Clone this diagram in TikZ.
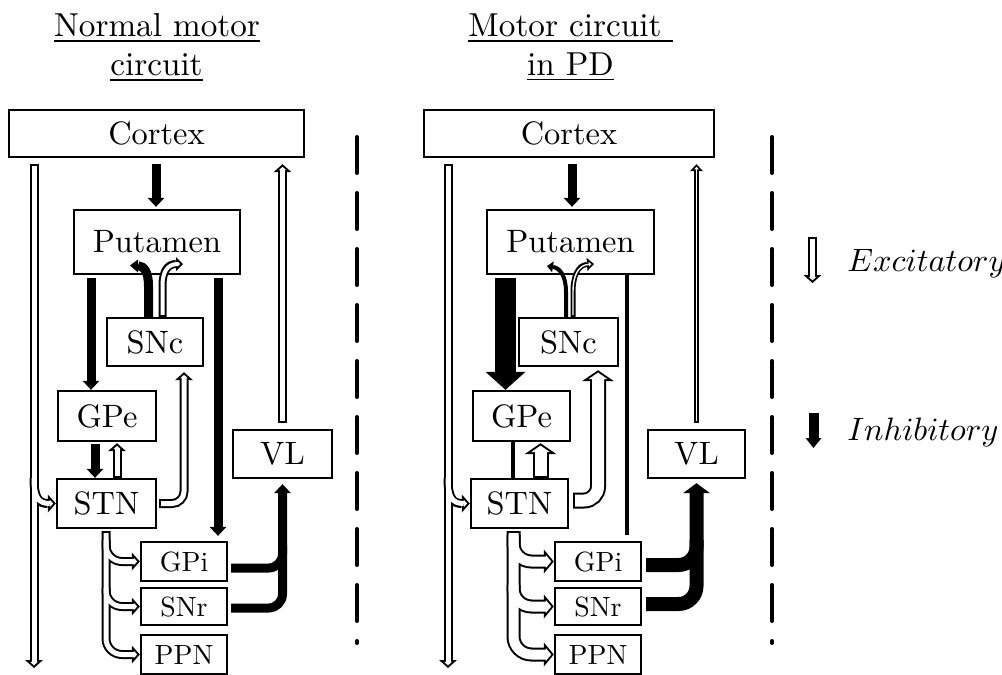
\documentclass[tikz,border=0pt]{standalone}
\usepackage{graphicx}
\usetikzlibrary{arrows.meta,calc}
\newcommand{\T}[1]{\scalebox{1.62}{#1}}
\newcommand{\Ts}[1]{\scalebox{1.39}{#1}}
\newcommand{\Tt}[1]{\scalebox{1.66}{#1}}
\tikzset{
  box/.style={draw, line width=1.2pt, inner sep=0pt, font=\fontsize{10}{12}\selectfont},
  sbox/.style={box},
  ttl/.style={anchor=base, inner sep=0pt, font=\fontsize{10}{12}\selectfont},
  lgd/.style={anchor=base west, inner sep=0pt, font=\fontsize{10}{12}\selectfont},
  dashln/.style={line width=2pt, line cap=round, dash pattern=on 18pt off 10pt},
  exNo/.style={draw=black, line width=4.5pt, -{Triangle[length=4pt,width=9pt,line width=0pt]}},
  exNi/.style={draw=white, line width=2.5pt, shorten <=1pt, shorten >=1.34pt, -{Triangle[length=1.67pt,width=3.75pt,line width=0pt]}},
  exSo/.style={draw=black, line width=4pt, -{Triangle[length=3.5pt,width=7pt,line width=0pt]}},
  exSi/.style={draw=white, line width=2pt, shorten <=1pt, shorten >=1.41pt, -{Triangle[length=1.08pt,width=2.17pt,line width=0pt]}},
  exTo/.style={draw=black, line width=2.5pt, -{Triangle[length=3.5pt,width=6.5pt,line width=0pt]}},
  exTi/.style={draw=white, line width=0.7pt, shorten <=0.9pt, shorten >=1.33pt, -{Triangle[length=1.28pt,width=2.35pt,line width=0pt]}},
  exWo/.style={draw=black, line width=8pt, -{Triangle[length=5.5pt,width=16pt,line width=0pt]}},
  exWi/.style={draw=white, line width=6pt, shorten <=1pt, shorten >=1.22pt, -{Triangle[length=3.28pt,width=9.55pt,line width=0pt]}},
  exVo/.style={draw=black, line width=7pt, -{Triangle[length=5pt,width=12pt,line width=0pt]}},
  exVi/.style={draw=white, line width=5pt, shorten <=1pt, shorten >=1.3pt, -{Triangle[length=2.7pt,width=6.5pt,line width=0pt]}},
  inN/.style={draw=black, line width=4.5pt, -{Triangle[length=4.5pt,width=8.5pt,line width=0pt]}},
  inS/.style={draw=black, line width=4.5pt, -{Triangle[length=4pt,width=6.5pt,line width=0pt]}},
  inT/.style={draw=black, line width=7pt, -{Triangle[length=5pt,width=13.5pt,line width=0pt]}},
  inH/.style={draw=black, line width=10.5pt, -{Triangle[length=9pt,width=20pt,line width=0pt]}},
  inL/.style={draw=black, line width=2pt},
  inLt/.style={draw=black, line width=2pt, -{Triangle[length=3pt,width=5.5pt,line width=0pt]}},
  inLg/.style={draw=black, line width=5pt, -{Triangle[length=5pt,width=8pt,line width=0pt]}},
}
\newcommand{\exa}[3][]{\draw[#2o,#1] #3; \draw[#2i,#1] #3;}
\begin{document}
\begin{tikzpicture}[x=0.5pt,y=-0.5pt]
\useasboundingbox (0,0) rectangle (1002,675);
% titles
\node[ttl] (tL1) at (157,36) {\Tt{\underline{Normal motor}}};
\node[ttl] (tL2) at (156.5,75) {\Tt{\underline{circuit}}};
\node[ttl] (tR1) at (570.5,36) {\Tt{\underline{Motor circuit }}};
\node[ttl] (tR2) at (570.5,75) {\Tt{\underline{in PD}}};
% ---------------- left boxes
\node[box, minimum width=147.5pt, minimum height=23.5pt] (cortexL) at (156.5,133.5) {\T{Cortex}};
\node[box, minimum width=83pt, minimum height=32pt] (putL) at (157,242) {\T{Putamen}};
\node[box, minimum width=48pt, minimum height=24pt] (sncL) at (155,342) {\T{SNc}};
\node[box, minimum width=49pt, minimum height=25pt] (gpeL) at (107,416) {\T{GPe}};
\node[box, minimum width=49.5pt, minimum height=24.5pt] (stnL) at (106.5,503.5) {\T{STN}};
\node[box, minimum width=49.5pt, minimum height=24pt] (vlL) at (282.5,454) {\T{VL}};
\node[sbox, minimum width=43pt, minimum height=19.5pt] (gpiL) at (184,561.5) {\Ts{GPi}};
\node[sbox, minimum width=43pt, minimum height=18.5pt] (snrL) at (184,606.5) {\Ts{SNr}};
\node[sbox, minimum width=43pt, minimum height=19.5pt] (ppnL) at (184,654.5) {\Ts{PPN}};
% ---------------- right boxes
\node[box, minimum width=145pt, minimum height=23.5pt] (cortexR) at (569,133.5) {\T{Cortex}};
\node[box, minimum width=83.5pt, minimum height=32pt] (putR) at (570.5,242) {\T{Putamen}};
\node[box, minimum width=49.5pt, minimum height=24pt] (sncR) at (568.5,342) {\T{SNc}};
\node[box, minimum width=48.5pt, minimum height=25pt] (gpeR) at (521.5,416) {\T{GPe}};
\node[box, minimum width=48.5pt, minimum height=24.5pt] (stnR) at (519.5,503.5) {\T{STN}};
\node[box, minimum width=48.5pt, minimum height=24pt] (vlR) at (696.5,454) {\T{VL}};
\node[sbox, minimum width=43pt, minimum height=19.5pt] (gpiR) at (598,561.5) {\Ts{GPi}};
\node[sbox, minimum width=43pt, minimum height=18.5pt] (snrR) at (598,606.5) {\Ts{SNr}};
\node[sbox, minimum width=43pt, minimum height=19.5pt] (ppnR) at (598,654.5) {\Ts{PPN}};
% free ends
\coordinate (botL) at (34,668);
\coordinate (brL) at (34,478);
\coordinate (botR) at (448,668);
\coordinate (brR) at (448,478);
\coordinate (pLa) at (130,265.5);
\coordinate (pLb) at (183,264);
\coordinate (pRa) at (547,266);
\coordinate (pRb) at (594,264);
% dashed separators
\draw[dashln] (357,137) coordinate (dL1) -- (357,643) coordinate (dL2);
\draw[dashln] (772,137) coordinate (dR1) -- (772,643) coordinate (dR2);
% ================= LEFT connectors
\draw[exNo] ($(cortexL.south -| botL)+(0,6)$) -- (botL);
\draw[exNo] (brL) .. controls (34,497) and (38,503.5) .. (stnL.west);
\draw[exNi] ($(cortexL.south -| botL)+(0,6)$) -- (botL);
\draw[exNi, shorten <=0pt] (brL) .. controls (34,497) and (38,503.5) .. (stnL.west);
\draw[inN] ($(cortexL.south -| 156,0)+(0,6)$) -- ($(putL.north -| 156,0)+(0,-2)$);
\draw[inN] ($(putL.south -| 91,0)+(0,3)$) -- (gpeL.north -| 91,0);
\draw[inN] ($(putL.south -| 218,0)+(0,3)$) -- ($(gpiL.north -| 218,0)+(0,-5)$);
\draw[inS] (sncL.north -| 148.5,0) -- (148.5,286) .. controls (148.5,272) and (144,266) .. (pLa);
\exa{exS}{(sncL.north -| 162.5,0) -- (162.5,286) .. controls (162.5,272) and (167,264) .. (pLb)}
\draw[inN] ($(gpeL.south -| 95,0)+(0,2)$) -- (stnL.north -| 95,0);
\exa{exN}{(stnL.north -| 117,0) -- ($(gpeL.south -| 117,0)+(0,1)$)}
\exa[rounded corners=6pt]{exN}{($(stnL.east)+(2,0)$) -- (stnL.east -| 184,0) -- ($(sncL.south -| 184,0)+(0,5)$)}
\draw[exNo, rounded corners=8pt] ($(stnL.south -| 106,0)+(0,2)$) -- (ppnL.west -| 106,0) -- (ppnL.west);
\draw[exNo, rounded corners=8pt] (106,540) -- (gpiL.west -| 106,0) -- (gpiL.west);
\draw[exNo, rounded corners=8pt] (106,588) -- (snrL.west -| 106,0) -- (snrL.west);
\draw[exNi, rounded corners=8pt] ($(stnL.south -| 106,0)+(0,2)$) -- (ppnL.west -| 106,0) -- (ppnL.west);
\draw[exNi, rounded corners=8pt, shorten <=0pt] (106,540) -- (gpiL.west -| 106,0) -- (gpiL.west);
\draw[exNi, rounded corners=8pt, shorten <=0pt] (106,588) -- (snrL.west -| 106,0) -- (snrL.west);
\draw[inN, -, rounded corners=7pt] ($(gpiL.east)+(3,6.5)$) -- (282.5,568) -- (282.5,545);
\draw[inN, rounded corners=7pt] ($(snrL.east)+(3,1.5)$) -- (282.5,608) -- ($(vlL.south)+(0,5)$);
\exa{exN}{($(vlL.north)+(0,-6)$) -- ($(cortexL.south -| vlL.north)+(0,6)$)}
% ================= RIGHT connectors
\draw[exNo] ($(cortexR.south -| botR)+(0,6)$) -- (botR);
\draw[exNo] (brR) .. controls (448,497) and (452,503.5) .. (stnR.west);
\draw[exNi] ($(cortexR.south -| botR)+(0,6)$) -- (botR);
\draw[exNi, shorten <=0pt] (brR) .. controls (448,497) and (452,503.5) .. (stnR.west);
\draw[inN] ($(cortexR.south -| 572,0)+(0,6)$) -- ($(putR.north -| 572,0)+(0,-2)$);
\draw[inH] ($(putR.south -| 505.5,0)+(0,3)$) -- (gpeR.north -| 505.5,0);
\draw[inL] (putR.south -| 627,0) -- ($(gpiR.north -| 627,0)+(0,-6)$);
\draw[inLt] (sncR.north -| 566,0) -- (566,292) .. controls (566,276) and (560,268) .. (pRa);
\exa{exT}{(sncR.north -| 573,0) -- (573,292) .. controls (573,276) and (578,265) .. (pRb)}
\draw[inL] (gpeR.south -| 513,0) -- (stnR.north -| 513,0);
\exa{exW}{(stnR.north -| 540.5,0) -- ($(gpeR.south -| 540.5,0)+(0,1)$)}
\exa[rounded corners=7pt]{exW}{($(stnR.east)+(4,-3)$) -- (598,500.5) -- ($(sncR.south -| 598,0)+(0,3)$)}
\draw[exVo, rounded corners=9pt] ($(stnR.south -| 513.5,0)+(0,2)$) -- (ppnR.west -| 513.5,0) -- (ppnR.west);
\draw[exVo, rounded corners=9pt] (513.5,535) -- (gpiR.west -| 513.5,0) -- (gpiR.west);
\draw[exVo, rounded corners=9pt] (513.5,585) -- (snrR.west -| 513.5,0) -- (snrR.west);
\draw[exVi, rounded corners=9pt] ($(stnR.south -| 513.5,0)+(0,2)$) -- (ppnR.west -| 513.5,0) -- (ppnR.west);
\draw[exVi, rounded corners=9pt, shorten <=0pt] (513.5,535) -- (gpiR.west -| 513.5,0) -- (gpiR.west);
\draw[exVi, rounded corners=9pt, shorten <=0pt] (513.5,585) -- (snrR.west -| 513.5,0) -- (snrR.west);
\draw[inT, -, rounded corners=9pt] ($(gpiR.east)+(4,3.5)$) -- (696.5,565) -- (696.5,540);
\draw[inT, rounded corners=9pt] ($(snrR.east)+(4,-2.5)$) -- (696.5,604) -- ($(vlR.south)+(0,4)$);
\exa{exT}{($(vlR.north)+(0,-6)$) -- ($(cortexR.south -| vlR.north)+(0,6)$)}
% ================= legend
\coordinate (lgE1) at (812.5,237);
\coordinate (lgE2) at (812.5,283);
\coordinate (lgI1) at (813.5,413);
\coordinate (lgI2) at (813.5,448);
\exa{exN}{(lgE1) -- (lgE2)}
\draw[inLg] (lgI1) -- (lgI2);
\node[lgd] (lgE) at (847,271) {\T{$Excitatory$}};
\node[lgd] (lgI) at (847,440) {\T{$Inhibitory$}};
\end{tikzpicture}
\end{document}
